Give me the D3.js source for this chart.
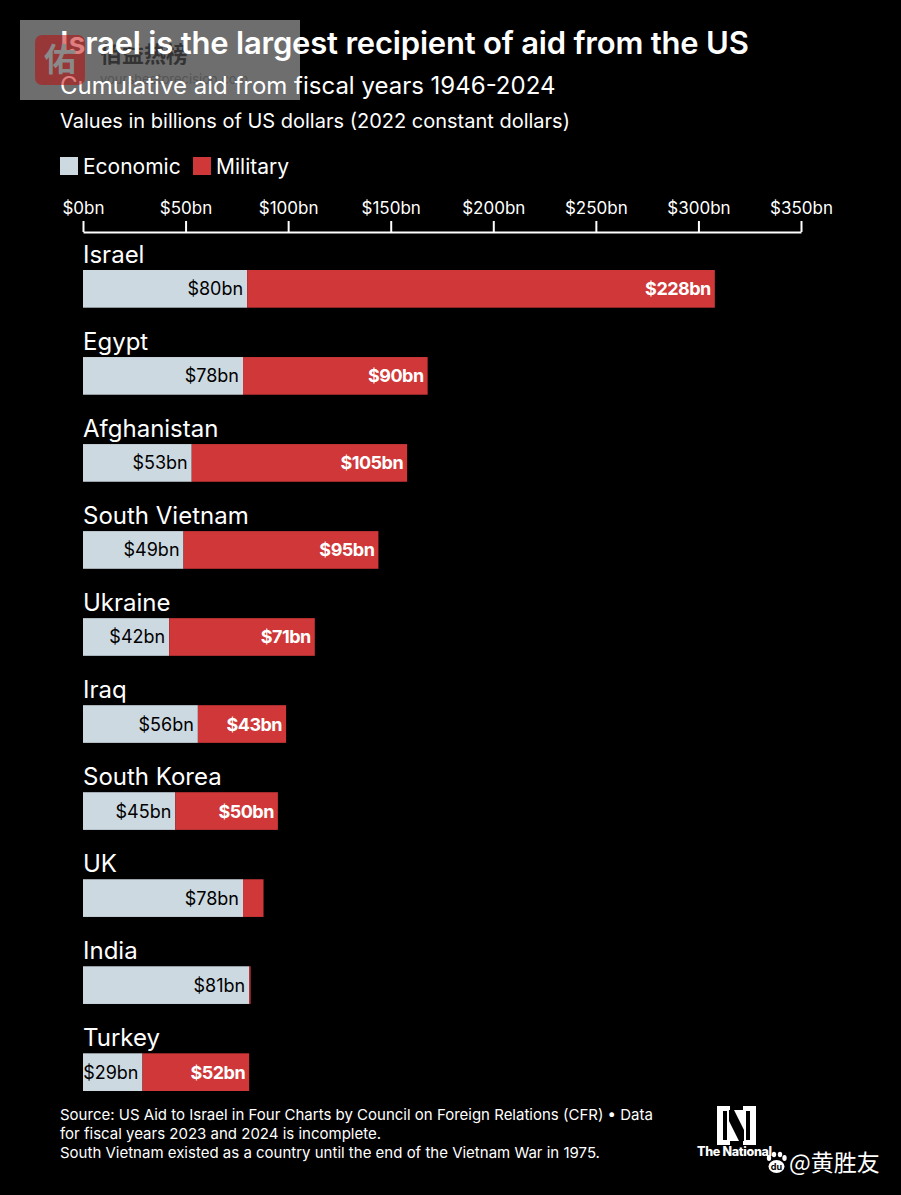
<!DOCTYPE html>
<html lang="en">
  <head>
    <meta charset="utf-8">
    <title>Israel is the largest recipient of aid from the US</title>
    <script src="https://cdn.jsdelivr.net/npm/d3@7"></script>
    <style>
      html, body { margin: 0; padding: 0; background: #000; }
      svg { display: block; }
      text { font-family: Inter, "Noto Sans", sans-serif; }
    </style>
  </head>
  <body>
    <div id="chart"></div>
    <script>
      // Values, billions of 2022 US dollars
      var countries = ["Israel", "Egypt", "Afghanistan", "South Vietnam", "Ukraine", "Iraq", "South Korea", "UK", "India", "Turkey"];
      var economic = [80, 78, 53, 49, 42, 56, 45, 78, 81, 29];
      var military = [228, 90, 105, 95, 71, 43, 50, 10, 0.7, 52];
      // the two smallest military slices carry no label in the original
      var militaryLabels = ["$228bn", "$90bn", "$105bn", "$95bn", "$71bn", "$43bn", "$50bn", "", "", "$52bn"];
      var ticks = [0, 50, 100, 150, 200, 250, 300, 350];
      var sources = [
        "Source: US Aid to Israel in Four Charts by Council on Foreign Relations (CFR) \u2022 Data",
        "for fiscal years 2023 and 2024 is incomplete.",
        "South Vietnam existed as a country until the end of the Vietnam War in 1975."
      ];

      var w = 901, h = 1195;
      var grey = "#cdd9e1", red = "#cf3738";

      var svg = d3.select("#chart").append("svg")
        .attr("width", w)
        .attr("height", h)
        .style("background", "#000");

      var x = d3.scaleLinear().domain([0, 350]).range([83, 801]);
      var y = d3.scaleBand().domain(countries).range([270, 1091]).paddingInner(0.567).paddingOuter(0).align(0);

      // watermark box sits under the title
      svg.append("rect").attr("x", 20).attr("y", 20).attr("width", 280).attr("height", 80).attr("fill", "#6e6e6e");
      svg.append("text").attr("x", 100).attr("y", 62).attr("fill", "#333")
        .style("font-family", "'Noto Sans CJK SC'").style("font-size", "22px").style("font-weight", 700).text("佰益热榜");
      svg.append("text").attr("x", 100).attr("y", 84).attr("fill", "#555").style("font-size", "13px").text("yoursheetprecision.com");

      // Titles
      svg.append("text").attr("x", 60).attr("y", 54).attr("fill", "#fff")
        .style("font-size", "31px").style("font-weight", 600).style("letter-spacing", "-0.2px")
        .text("Israel is the largest recipient of aid from the US");
      svg.append("text").attr("x", 60).attr("y", 94).attr("fill", "#fff")
        .style("font-size", "24px").text("Cumulative aid from fiscal years 1946-2024");
      svg.append("text").attr("x", 60).attr("y", 128).attr("fill", "#fff")
        .style("font-size", "20px").text("Values in billions of US dollars (2022 constant dollars)");

      // watermark logo goes over the title, that is why "Is" turns pink
      svg.append("rect").attr("x", 35).attr("y", 35).attr("width", 50).attr("height", 50).attr("rx", 7)
        .attr("fill", "#c00000").attr("fill-opacity", 0.5);
      svg.append("text").attr("x", 60).attr("y", 71).attr("text-anchor", "middle").attr("fill", "#8a8a8a")
        .style("font-family", "'Noto Sans CJK SC'").style("font-size", "32px").style("font-weight", 700).text("佑");

      // Legend
      var legend = [["Economic", grey, 60], ["Military", red, 193]];
      legend.forEach(function(l) {
        svg.append("rect").attr("x", l[2]).attr("y", 157).attr("width", 18).attr("height", 18).attr("fill", l[1]);
        svg.append("text").attr("x", l[2] + 23).attr("y", 174).attr("fill", "#fff")
          .style("font-size", "21px").text(l[0]);
      });

      // Axis on top
      var axis = d3.axisTop(x).tickValues(ticks).tickSize(11).tickSizeOuter(0)
        .tickFormat(function(d) { return "$" + d + "bn"; });
      var axisG = svg.append("g").attr("transform", "translate(0,232)").call(axis);
      axisG.selectAll("path, line").attr("stroke", "#fff").attr("stroke-width", 2);
      axisG.selectAll("text").attr("fill", "#fff").attr("y", -18).style("font-size", "17px").style("font-family", "Inter");

      // Rows
      countries.forEach(function(c, i) {
        var top = y(c);
        var mid = top + y.bandwidth() / 2;
        var x1 = x(economic[i]);
        var x2 = x(economic[i] + military[i]);

        svg.append("text").attr("x", 83).attr("y", top - 7).attr("fill", "#fff")
          .style("font-size", "24px").text(c);
        svg.append("rect").attr("x", x(0)).attr("y", top).attr("width", x1 - x(0)).attr("height", y.bandwidth()).attr("fill", grey);
        svg.append("rect").attr("x", x1).attr("y", top).attr("width", x2 - x1).attr("height", y.bandwidth()).attr("fill", red);
        svg.append("text").attr("x", x1 - 4).attr("y", mid + 6.5).attr("text-anchor", "end").attr("fill", "#000")
          .style("font-size", "18px").text("$" + economic[i] + "bn");
        svg.append("text").attr("x", x2 - 4).attr("y", mid + 6.5).attr("text-anchor", "end").attr("fill", "#fff")
          .style("font-size", "18px").style("font-weight", 700).style("letter-spacing", "-0.5px").text(militaryLabels[i]);
      });

      // Source
      svg.selectAll(".source").data(sources).enter().append("text")
        .attr("class", "source")
        .attr("x", 60)
        .attr("y", function(d, i) { return 1120 + i * 19; })
        .attr("fill", "#fff")
        .style("font-size", "15px")
        .text(function(d) { return d; });

      // The National logo
      var logo = svg.append("g").attr("transform", "translate(717,1106)");
      logo.append("rect").attr("width", 39).attr("height", 39).attr("fill", "#fff");
      logo.append("path").attr("fill", "#000")
        .attr("d", "M6 5V34H10V9H6ZM29 5H33V34H29V30H33M14 5V13L25 34V26L14 5Z");
      logo.append("path").attr("fill", "#000").attr("d", "M6 5H10V34H6ZM29 5H33V34H29ZM13 0H26V4H13ZM13 35H26V39H13ZM12 4H17L27 24V35H22L12 15Z");
      svg.append("text").attr("x", 697).attr("y", 1156).attr("fill", "#fff")
        .style("font-size", "12.5px").style("font-weight", 800).style("letter-spacing", "-0.3px").text("The National");

      // Baidu mark and handle
      var paw = svg.append("g").attr("fill", "#fff");
      [[769, 1158, 2.2, 3], [774, 1154.5, 2.2, 2.8], [780, 1154.5, 2.2, 2.8], [784.5, 1158, 2.2, 3]].forEach(function(p) {
        paw.append("ellipse").attr("cx", p[0]).attr("cy", p[1]).attr("rx", p[2]).attr("ry", p[3]);
      });
      paw.append("ellipse").attr("cx", 776.5).attr("cy", 1166.5).attr("rx", 8).attr("ry", 6.5);
      svg.append("text").attr("x", 776.5).attr("y", 1170).attr("text-anchor", "middle").attr("fill", "#000")
        .style("font-size", "9px").style("font-weight", 700).text("du");
      svg.append("text").attr("x", 789).attr("y", 1171).attr("fill", "#fff")
        .style("font-family", "'Noto Sans CJK SC'").style("font-size", "23px").text("@黄胜友");
    </script>
  </body>
</html>
